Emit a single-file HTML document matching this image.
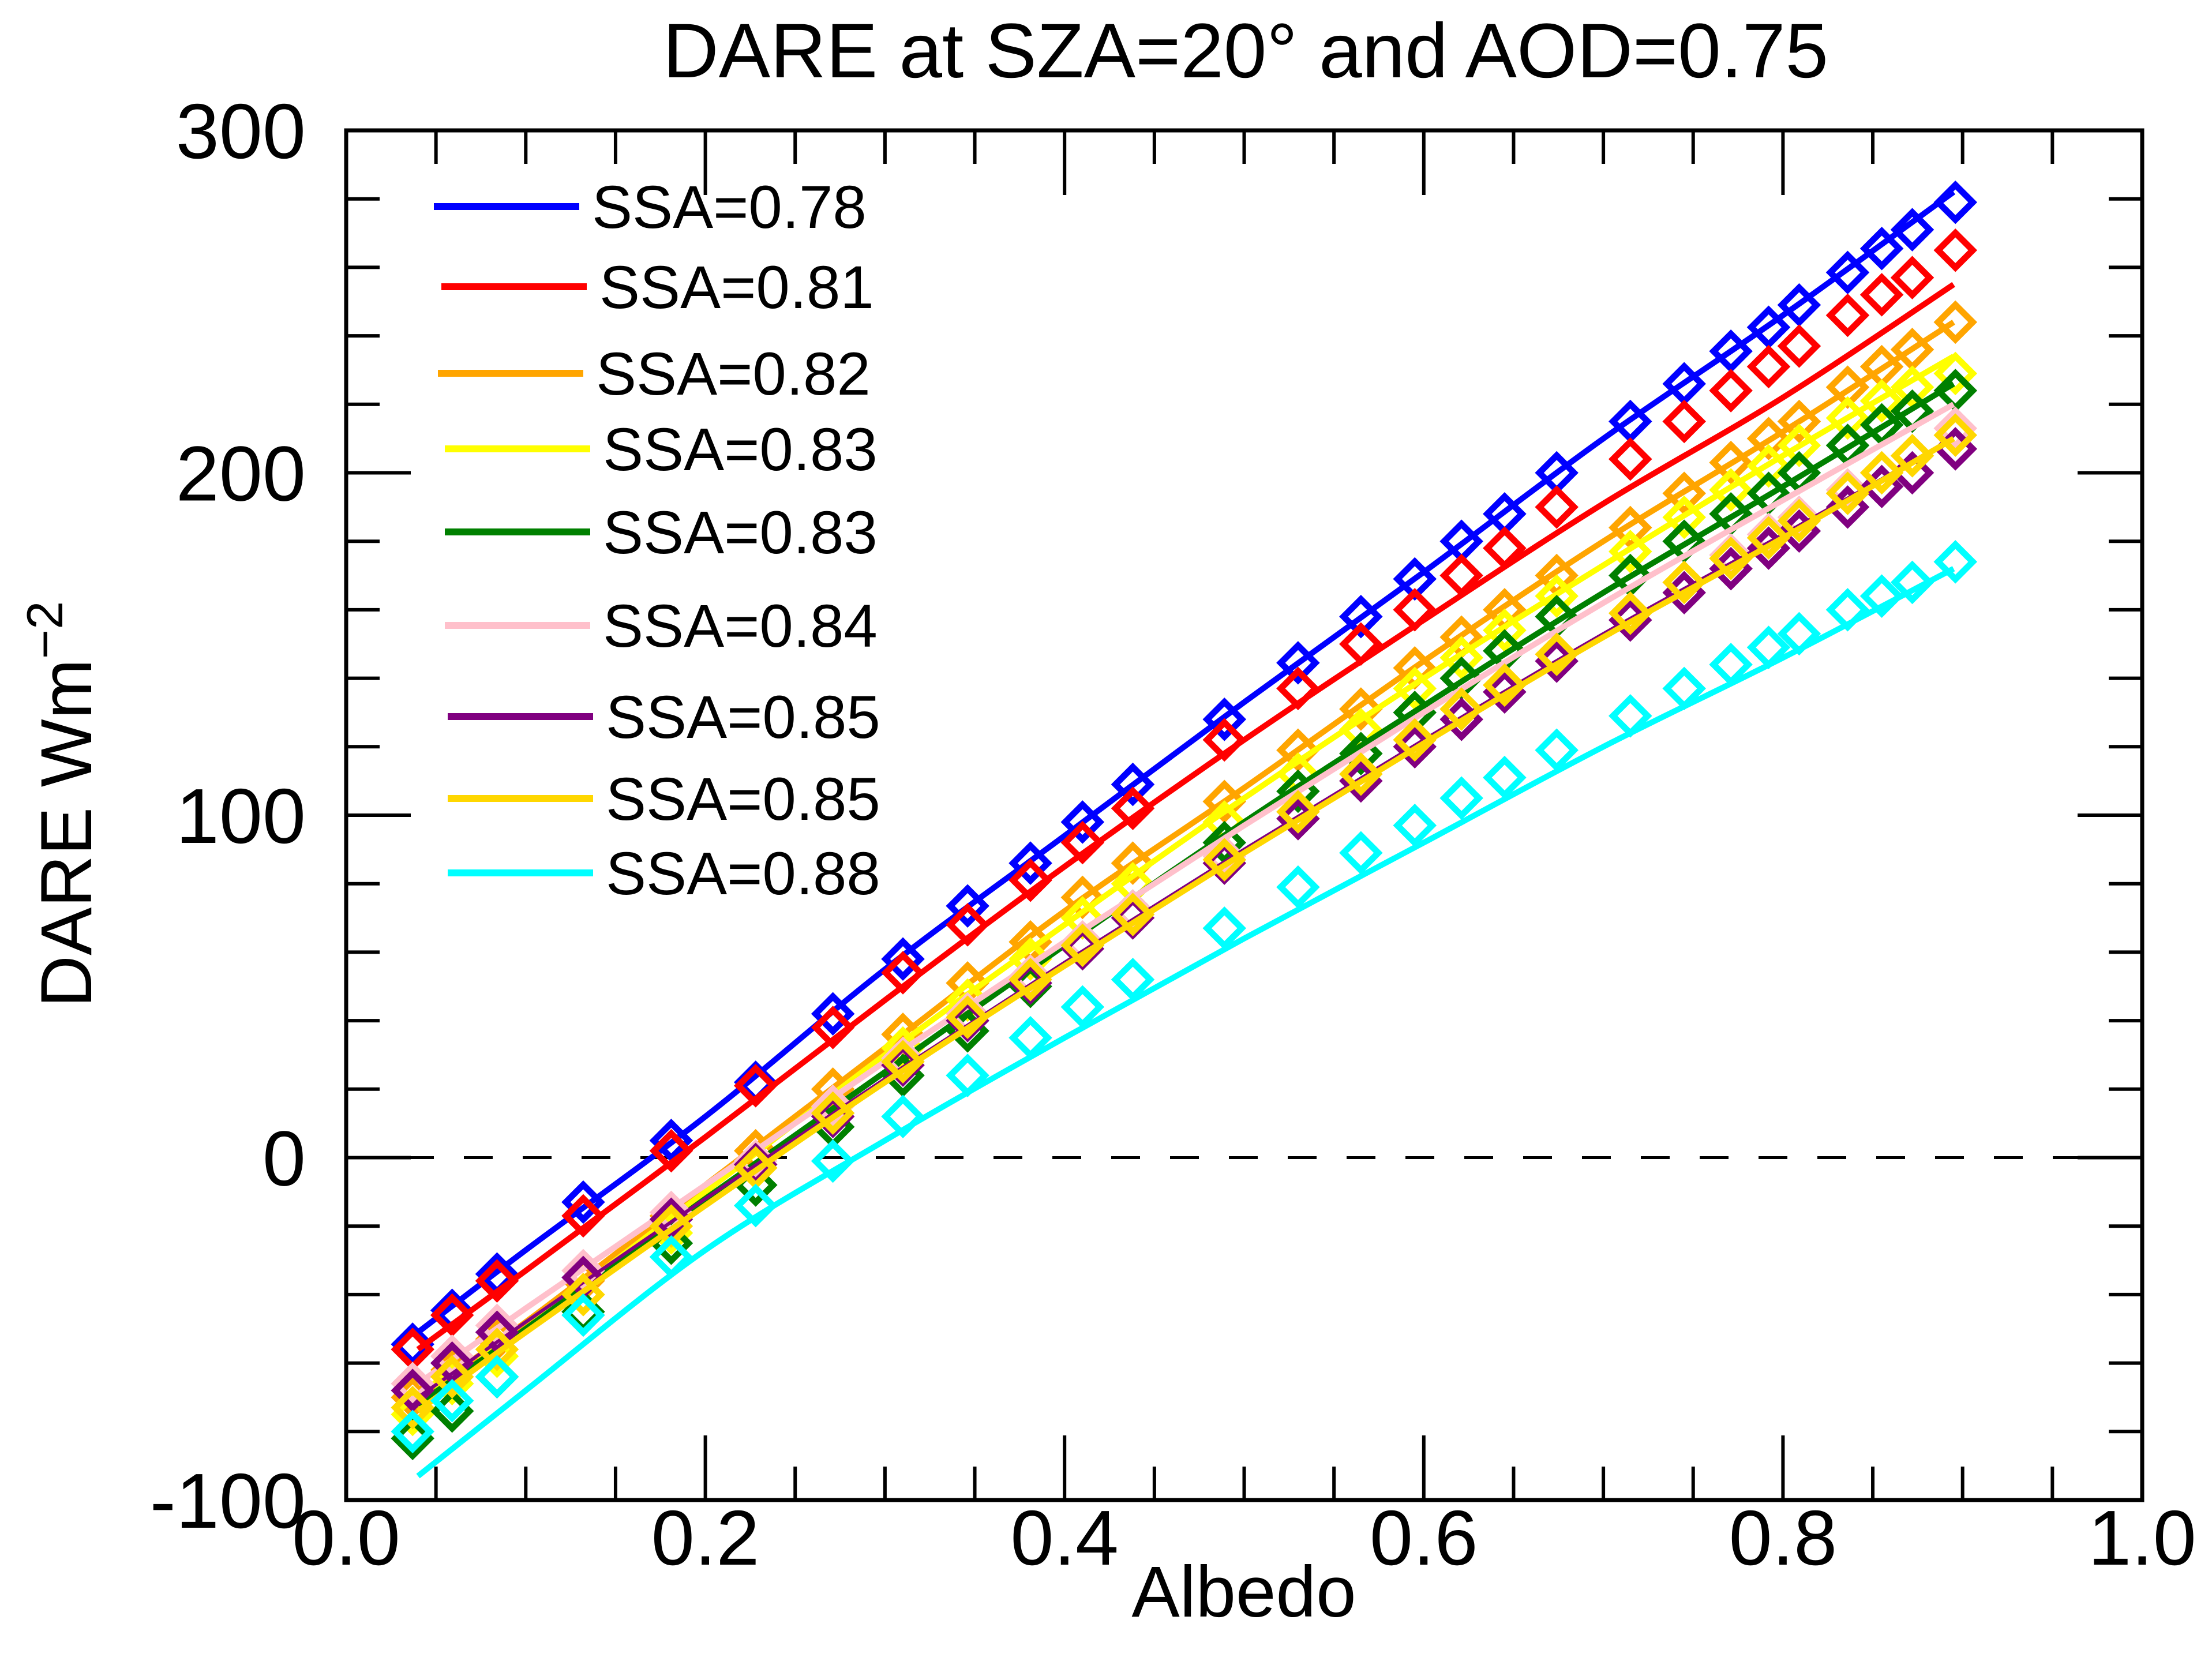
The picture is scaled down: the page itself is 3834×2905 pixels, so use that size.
<!DOCTYPE html>
<html><head><meta charset="utf-8"><style>
html,body{margin:0;padding:0;background:#fff}
svg{display:block;font-family:"Liberation Sans",Helvetica,Arial,sans-serif}
</style></head><body>
<svg id="chart" width="3834" height="2905" viewBox="0 0 3834 2905" xmlns="http://www.w3.org/2000/svg">
<rect width="3834" height="2905" fill="#fff"/>
<text x="2159" y="134" font-size="134" text-anchor="middle">DARE at SZA=20° and AOD=0.75</text>
<text x="2156" y="2802" font-size="125" text-anchor="middle">Albedo</text>
<text transform="translate(158,1394) rotate(-90)" font-size="125" text-anchor="middle">DARE Wm<tspan dy="-50" font-size="88">−2</tspan></text>
<g id="axes"></g><g id="series"></g><g id="legend"></g>
</svg>
<script>
const xDiamond=[0.037,0.059,0.084,0.132,0.181,0.228,0.271,0.31,0.346,0.381,0.41,0.438,0.489,0.53,0.565,0.595,0.621,0.645,0.674,0.715,0.745,0.771,0.792,0.809,0.836,0.855,0.872,0.896];
const xLine=[0.04,0.1,0.2,0.3,0.4,0.5,0.6,0.7,0.8,0.895];
const labels=["SSA=0.78","SSA=0.81","SSA=0.82","SSA=0.83","SSA=0.83","SSA=0.84","SSA=0.85","SSA=0.85","SSA=0.88"];
const colors=["#0000ff","#ff0000","#ffa500","#ffff00","#008000","#ffc0cb","#800080","#ffd700","#00ffff"];
const lineBlue=[-51,-27,12,55,94,133,171,210,246,282];
const lineRed=[-56,-33,6,46,85,122,157,191,222,255];
const lineOrange=[-70,-48,-8,32,72,108,145,180,212,244];
const lineYellow=[-74,-50,-10,30,68,105,140,173,205,234];
const lineGreen=[-72,-50,-12,25,62,98,132,165,196,226];
const linePink=[-66,-44,-8,28,63,97,130,162,192,220];
const linePurple=[-70,-48,-12,23,57,90,122,153,182,210];
const lineGold=[-74,-51,-14,22,56,89,121,152,181,210];
const lineCyan=[-93,-68,-27,5,35,64,92,120,146,172];
const ptBlue=[-54.5,-44.6,-34,-13,5,22,42,58,73.5,86,98,109,128,144.5,158,169,180,188,200,215,226,235.5,242.5,249,258.5,265.5,271,279];
const ptRed=[-56,-46,-36,-17,2,21,38,54,68,81,92,102,122,137,150,160,170,178,190,204,215,224,231,237,246,252,257,265];
const ptOrange=[-70,-62,-53,-36,-17,2,20,36,51,63,76,86,104,119,131,143,152,160,170,184,194,203,210,215,225,231,236,244];
const ptYellow=[-75,-66,-58,-40,-22,-3,15,32,46,58,70,80,98,112,125,137,146,154,164,177,187,195,202,208,216,221,225,229];
const ptGreen=[-82,-74,-64,-45,-25,-8,9,24,37,50,62,72,92,107,118,130,140,148,158,170,180,188,194,200,208,214,218,224];
const ptPink=[-66,-58,-49,-33,-16,-1,15,29,42,53,63,72,88,101,112,122,131,138,147,159,168,176,182,187,195,200,205,213];
const ptPurple=[-68,-60,-51,-35,-18,-2,12,27,40,51,61,70,86,99,110,120,128,136,145,157,165,172,178,183,190,196,200,207];
const ptGold=[-73,-64,-56,-40,-20,-3,13,28,41,52,62,71,87,101,112,122,131,138,147,159,168,175,181,186,194,200,205,211];
const ptCyan=[-80,-71,-64,-46,-29,-14,-1,12,24,35,44,52,67,79,89,97,105,111,119,129,137,144,149,153,160,164,168,174];
const xTicks=["0.0","0.2","0.4","0.6","0.8","1.0"];
const yTicks=["-100","0","100","200","300"];

const L=600,R=3713,T=226,B=2600,xMin=0,xMax=1,yMin=-100,yMax=300;
const sx=v=>L+(v-xMin)/(xMax-xMin)*(R-L);
const sy=v=>B-(v-yMin)/(yMax-yMin)*(B-T);
const NS="http://www.w3.org/2000/svg";
function mk(tag,parent,attrs){const e=document.createElementNS(NS,tag);for(const k in attrs)e.setAttribute(k,attrs[k]);parent.appendChild(e);return e;}
const axes=document.getElementById('axes'),ser=document.getElementById('series'),leg=document.getElementById('legend');

let z=mk('line',axes,{x1:L,x2:R,y1:sy(0),y2:sy(0),stroke:'#000','stroke-width':5,'stroke-dasharray':'50 52'});



function smooth(ps){
  let d='M'+ps[0][0]+','+ps[0][1];
  for(let i=0;i<ps.length-1;i++){
    const p0=ps[Math.max(0,i-1)],p1=ps[i],p2=ps[i+1],p3=ps[Math.min(ps.length-1,i+2)];
    const c1=[p1[0]+(p2[0]-p0[0])/6,p1[1]+(p2[1]-p0[1])/6];
    const c2=[p2[0]-(p3[0]-p1[0])/6,p2[1]-(p3[1]-p1[1])/6];
    d+=' C'+c1.join(',')+' '+c2.join(',')+' '+p2.join(',');
  }
  return d;
}

const lines=[lineBlue,lineRed,lineOrange,lineYellow,lineGreen,linePink,linePurple,lineGold,lineCyan];
const pts=[ptBlue,ptRed,ptOrange,ptYellow,ptGreen,ptPink,ptPurple,ptGold,ptCyan];
lines.forEach((ln,i)=>{
  const g=mk('g',ser,{});
  
  
  const p=mk('path',g,{d:smooth(xLine.map((x,j)=>[sx(x),sy(ln[j])])),fill:'none',stroke:colors[i],'stroke-width':i==6?6:10,'stroke-linejoin':'round'});
  
  
  pts[i].forEach((v,j)=>{
    const cx=sx(xDiamond[j]),cy=sy(v),h=30;
    const d=mk('polygon',g,{points:`${cx},${cy-h} ${cx+h},${cy} ${cx},${cy+h} ${cx-h},${cy}`,fill:'none',stroke:colors[i],'stroke-width':11});
    
    
  });
});

let fr=mk('rect',axes,{x:L,y:T,width:R-L,height:B-T,fill:'none',stroke:'#000','stroke-width':7});


for(let k=0;k<=20;k++){
  const v=k*0.05,x=sx(v),len=(k%4==0)?112:58;
  mk('line',axes,{x1:x,x2:x,y1:B,y2:B-len,stroke:'#000','stroke-width':6});
  mk('line',axes,{x1:x,x2:x,y1:T,y2:T+len,stroke:'#000','stroke-width':6});
}
for(let k=0;k<=20;k++){
  const v=-100+k*20,y=sy(v),len=(k%5==0)?112:58;
  mk('line',axes,{x1:L,x2:L+len,y1:y,y2:y,stroke:'#000','stroke-width':6});
  mk('line',axes,{x1:R,x2:R-len,y1:y,y2:y,stroke:'#000','stroke-width':6});
}
xTicks.forEach((t,i)=>{
  const e=mk('text',axes,{x:sx(i*0.2),y:2712,'font-size':135,'text-anchor':'middle'});
  e.textContent=t;
  
  
});
yTicks.forEach((t,i)=>{
  const e=mk('text',axes,{x:530,y:sy(-100+i*100)+48,'font-size':135,'text-anchor':'end'});
  e.textContent=t;
  
  
});

const legY=[358,497,647,778,922,1084,1242,1384,1513];
const legX=[752,765,759,771,771,771,776,776,776];
labels.forEach((t,i)=>{
  const g=mk('g',leg,{});
  
  
  mk('line',g,{x1:legX[i],x2:legX[i]+252,y1:legY[i],y2:legY[i],stroke:colors[i],'stroke-width':12});
  const e=mk('text',g,{x:legX[i]+274,y:legY[i]+37,'font-size':105});
  e.textContent=t;
});
</script>
</body></html>
